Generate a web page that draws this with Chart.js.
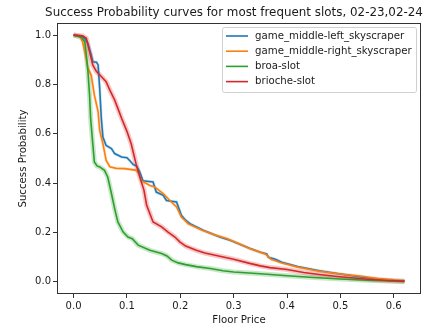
<!DOCTYPE html>
<html>
<head>
<meta charset="utf-8">
<script src="https://cdn.jsdelivr.net/npm/chart.js@4.4.1/dist/chart.umd.min.js"></script>
<style>
html, body { margin: 0; padding: 0; background: #fff; }
canvas { display: block; }
</style>
</head>
<body>
<canvas id="curveChart" width="435" height="328"></canvas>
<script>
// Success probability per floor price, one curve per slot
const leftSkyX = [0, 0.015, 0.021, 0.027, 0.033, 0.036, 0.043, 0.046, 0.049, 0.052, 0.055, 0.061, 0.071, 0.077, 0.09, 0.1, 0.106, 0.112, 0.118, 0.124, 0.13, 0.149, 0.155, 0.168, 0.174, 0.193, 0.202, 0.21, 0.218, 0.243, 0.274, 0.293, 0.331, 0.35, 0.362, 0.365, 0.378, 0.39, 0.42, 0.46, 0.5, 0.54, 0.57, 0.6, 0.62];
const leftSkyY = [1.0, 0.995, 0.987, 0.966, 0.92, 0.892, 0.89, 0.879, 0.784, 0.663, 0.587, 0.553, 0.54, 0.52, 0.506, 0.503, 0.49, 0.475, 0.47, 0.445, 0.41, 0.405, 0.364, 0.351, 0.33, 0.324, 0.27, 0.25, 0.236, 0.209, 0.182, 0.169, 0.135, 0.12, 0.113, 0.1, 0.092, 0.08, 0.062, 0.045, 0.032, 0.02, 0.012, 0.006, 0.003];

const rightSkyX = [0, 0.012, 0.017, 0.021, 0.027, 0.033, 0.036, 0.039, 0.046, 0.049, 0.055, 0.061, 0.068, 0.08, 0.096, 0.118, 0.122, 0.127, 0.143, 0.152, 0.168, 0.18, 0.193, 0.202, 0.215, 0.24, 0.265, 0.287, 0.31, 0.33, 0.35, 0.36, 0.37, 0.39, 0.42, 0.46, 0.5, 0.54, 0.57, 0.6, 0.62];
const rightSkyY = [1.0, 0.995, 0.973, 0.933, 0.865, 0.838, 0.798, 0.757, 0.69, 0.614, 0.56, 0.493, 0.466, 0.46, 0.459, 0.452, 0.44, 0.41, 0.391, 0.385, 0.358, 0.331, 0.304, 0.263, 0.235, 0.21, 0.19, 0.176, 0.155, 0.135, 0.12, 0.112, 0.092, 0.077, 0.06, 0.043, 0.032, 0.023, 0.014, 0.007, 0.003];

const broaX = [0, 0.015, 0.021, 0.024, 0.027, 0.03, 0.032, 0.036, 0.039, 0.044, 0.049, 0.058, 0.064, 0.071, 0.077, 0.083, 0.093, 0.102, 0.11, 0.121, 0.143, 0.165, 0.175, 0.184, 0.196, 0.21, 0.23, 0.256, 0.28, 0.3, 0.35, 0.4, 0.45, 0.5, 0.55, 0.6, 0.62];
const broaY = [1.0, 0.99, 0.973, 0.92, 0.852, 0.757, 0.663, 0.56, 0.486, 0.47, 0.466, 0.452, 0.425, 0.358, 0.297, 0.243, 0.202, 0.182, 0.175, 0.149, 0.128, 0.115, 0.105, 0.088, 0.077, 0.07, 0.062, 0.054, 0.045, 0.04, 0.033, 0.025, 0.018, 0.012, 0.007, 0.003, 0.002];

const briocheX = [0, 0.017, 0.024, 0.03, 0.036, 0.043, 0.052, 0.061, 0.068, 0.077, 0.083, 0.09, 0.1, 0.108, 0.118, 0.125, 0.132, 0.137, 0.149, 0.165, 0.177, 0.19, 0.199, 0.21, 0.23, 0.246, 0.274, 0.3, 0.33, 0.35, 0.368, 0.4, 0.431, 0.46, 0.494, 0.53, 0.556, 0.59, 0.62];
const briocheY = [1.0, 0.997, 0.987, 0.933, 0.879, 0.852, 0.832, 0.811, 0.777, 0.737, 0.703, 0.663, 0.61, 0.56, 0.47, 0.42, 0.371, 0.31, 0.243, 0.223, 0.202, 0.182, 0.162, 0.145, 0.128, 0.117, 0.104, 0.092, 0.075, 0.065, 0.058, 0.05, 0.038, 0.03, 0.022, 0.015, 0.01, 0.006, 0.003];

const xTicks = [0, 0.1, 0.2, 0.3, 0.4, 0.5, 0.6];
const yTicks = [0, 0.2, 0.4, 0.6, 0.8, 1.0];

const slots = [
    { label: 'game_middle-left_skyscraper', xs: leftSkyX, ys: leftSkyY, color: '#1f77b4', halo: 'rgba(31,119,180,0.2)', haloWidth: 3 },
    { label: 'game_middle-right_skyscraper', xs: rightSkyX, ys: rightSkyY, color: '#ff7f0e', halo: 'rgba(255,127,14,0.2)', haloWidth: 3 },
    { label: 'broa-slot', xs: broaX, ys: broaY, color: '#2ca02c', halo: 'rgba(44,160,44,0.25)', haloWidth: 5 },
    { label: 'brioche-slot', xs: briocheX, ys: briocheY, color: '#d62728', halo: 'rgba(214,39,40,0.25)', haloWidth: 5 }
];

const FONT = 'DejaVu Sans';
const TEXT = '#1a1a1a';

// Lines first, then translucent bands underneath them
const datasets = [];
slots.forEach((s, i) => {
    const pts = s.xs.map((x, j) => ({ x: x, y: s.ys[j] }));
    datasets.push({
        label: s.label, data: pts, borderColor: s.color, borderWidth: 1.6,
        pointRadius: 0, tension: 0, fill: false, order: 4 - i
    });
    datasets.push({
        label: s.label + '_band', data: pts, borderColor: s.halo, borderWidth: s.haloWidth,
        pointRadius: 0, tension: 0, fill: false, order: 20 - i
    });
});

const framePlugin = {
    id: 'framePlugin',
    afterDraw(chart) {
        const ctx = chart.ctx;
        const a = chart.chartArea;
        ctx.save();
        // axes frame
        ctx.strokeStyle = '#333';
        ctx.lineWidth = 1;
        ctx.strokeRect(a.left + 0.5, a.top + 0.5, a.right - a.left - 1, a.bottom - a.top - 1);

        // title and axis labels
        ctx.fillStyle = TEXT;
        ctx.textAlign = 'center';
        ctx.textBaseline = 'middle';
        ctx.font = '11.9px "' + FONT + '"';
        ctx.fillText('Success Probability curves for most frequent slots, 02-23,02-24', (a.left + a.right) / 2 - 5, 12.5);
        ctx.font = '10.2px "' + FONT + '"';
        ctx.fillText('Floor Price', (a.left + a.right) / 2, 320);
        ctx.save();
        ctx.translate(23.5, (a.top + a.bottom) / 2);
        ctx.rotate(-Math.PI / 2);
        ctx.fillText('Success Probability', 0, 0);
        ctx.restore();

        // legend box in the upper right
        const bx = 222.5, by = 27.5, bw = 194, bh = 65;
        ctx.fillStyle = 'rgba(255,255,255,0.8)';
        ctx.strokeStyle = '#d0d0d0';
        ctx.lineWidth = 1;
        ctx.beginPath();
        ctx.roundRect(bx, by, bw, bh, 2);
        ctx.fill();
        ctx.stroke();
        ctx.textAlign = 'left';
        slots.forEach((s, i) => {
            const yy = 36 + i * 15.2;
            ctx.strokeStyle = s.color;
            ctx.lineWidth = 1.6;
            ctx.beginPath();
            ctx.moveTo(226, yy);
            ctx.lineTo(248, yy);
            ctx.stroke();
            ctx.fillStyle = TEXT;
            ctx.fillText(s.label, 255, yy);
        });
        ctx.restore();
    }
};

const ctx = document.getElementById('curveChart').getContext('2d');
new Chart(ctx, {
    type: 'line',
    data: { datasets: datasets },
    options: {
        responsive: false,
        animation: false,
        layout: { padding: { left: 0, top: 23, right: 14, bottom: 0 } },
        plugins: {
            legend: { display: false },
            tooltip: { enabled: false }
        },
        scales: {
            x: {
                type: 'linear',
                min: -0.031,
                max: 0.651,
                afterBuildTicks: scale => { scale.ticks = xTicks.map(v => ({ value: v })); },
                afterFit: scale => { scale.height = 34; },
                grid: { drawOnChartArea: false, tickLength: 4, tickColor: '#333', tickWidth: 1 },
                border: { display: false },
                ticks: {
                    padding: 2, color: TEXT, maxRotation: 0, autoSkip: false,
                    font: { family: FONT, size: 10 },
                    callback: v => v.toFixed(1)
                }
            },
            y: {
                min: -0.049,
                max: 1.049,
                afterBuildTicks: scale => { scale.ticks = yTicks.map(v => ({ value: v })); },
                afterFit: scale => { scale.width = 57; },
                grid: { drawOnChartArea: false, tickLength: 4, tickColor: '#333', tickWidth: 1 },
                border: { display: false },
                ticks: {
                    padding: 2, color: TEXT, autoSkip: false,
                    font: { family: FONT, size: 10 },
                    callback: v => v.toFixed(1)
                }
            }
        }
    },
    plugins: [framePlugin]
});
</script>
</body>
</html>
